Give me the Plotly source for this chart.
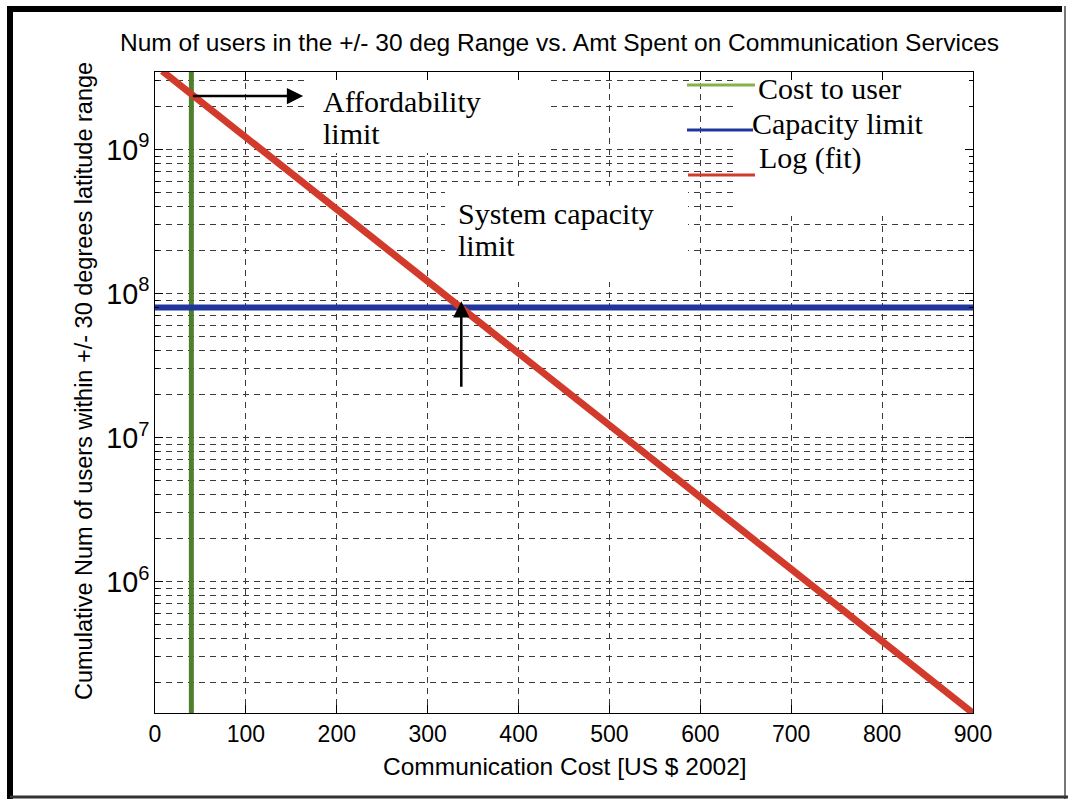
import numpy as np
import plotly.graph_objects as go

# ---------------- data ----------------
cost_fit = [8, 100, 200, 300, 400, 500, 600, 700, 800, 900]
users_fit = [3.5e9, 1.21e9, 3.84e8, 1.21e8, 3.84e7, 1.21e7, 3.84e6, 1.22e6, 3.86e5, 1.22e5]

cost_to_user = 40          # vertical green line (US $)
capacity_limit = 8e7       # horizontal blue line (users)

x_ticks = [0, 100, 200, 300, 400, 500, 600, 700, 800, 900]
x_range = [0, 900]
y_range_log = [5.087, 9.538]

afford_arrow = dict(x_tail=40, x_head=163, y=2.35e9)
capacity_arrow = dict(x=337, y_tail=2.2e7, y_head=8.85e7)

title_text = "Num of users in the +/- 30 deg Range vs. Amt Spent on Communication Services"
x_title = "Communication Cost [US $ 2002]"
y_title = "Cumulative Num of users within +/- 30 degrees latitude range"
legend_labels = ["Cost to user", "Capacity limit", "Log (fit)"]

# ---------------- style ----------------
W, H = 1068, 799
ML, MR, MT, MB = 155, 95, 72, 86
PW, PH = W - ML - MR, H - MT - MB

GREEN = "#4f7f2c"
GREEN_LEG = "#86b24a"
BLUE = "#21369c"
RED = "#d23b2b"
SANS = "Liberation Sans, Arial, Helvetica, sans-serif"
SERIF = "Liberation Serif, Times New Roman, serif"
GRID = "#3a3a3a"
DASH = "6px,5px"


def px2x(px):
    return (px - ML) / PW


def py2y(py):
    return (MT + PH - py) / PH


def px2data_x(px):
    return x_range[0] + px2x(px) * (x_range[1] - x_range[0])


def py2data_y(py):
    lo, hi = y_range_log
    return 10 ** (lo + py2y(py) * (hi - lo))


fig = go.Figure()

# white patches (cover gridlines behind the text boxes, as in the reference)
patches = [(305, 72, 548, 153), (445, 186, 688, 282), (733, 72, 965, 216)]
for (x0, y0, x1, y1) in patches:
    xa, xb = px2data_x(x0), px2data_x(x1)
    ya, yb = py2data_y(y1), py2data_y(y0)
    fig.add_trace(go.Scatter(x=[xa, xb, xb, xa, xa], y=[ya, ya, yb, yb, ya],
                             mode="lines", fill="toself", fillcolor="white",
                             line=dict(width=0, color="white"),
                             showlegend=False, hoverinfo="skip"))

x_lo, x_hi = x_range
y_lo, y_hi = 10 ** y_range_log[0], 10 ** y_range_log[1]

fig.add_trace(go.Scatter(x=[cost_to_user, cost_to_user], y=[y_lo * 0.98, y_hi * 1.02],
                         mode="lines", line=dict(color=GREEN, width=5),
                         showlegend=False, cliponaxis=False, hoverinfo="skip"))
fig.add_trace(go.Scatter(x=[x_lo, x_hi], y=[capacity_limit, capacity_limit],
                         mode="lines", line=dict(color=BLUE, width=6),
                         showlegend=False, cliponaxis=False, hoverinfo="skip"))
fig.add_trace(go.Scatter(x=cost_fit, y=users_fit, mode="lines",
                         line=dict(color=RED, width=7),
                         showlegend=False, cliponaxis=False, hoverinfo="skip"))

# legend keys (manual, as in the reference)
leg_lines = [(687, 755, 85, GREEN_LEG), (687, 753, 130, BLUE), (688, 755, 175, RED)]
for (x0, x1, yy, c) in leg_lines:
    fig.add_shape(type="line", xref="paper", yref="paper",
                  x0=px2x(x0), x1=px2x(x1), y0=py2y(yy), y1=py2y(yy),
                  line=dict(color=c, width=3), layer="above")

leg_text_pos = [(756, 88), (750, 123), (757, 158)]
for lab, (tx, ty) in zip(legend_labels, leg_text_pos):
    fig.add_annotation(text=lab, xref="paper", yref="paper", x=px2x(tx), y=py2y(ty),
                       xanchor="left", yanchor="middle", showarrow=False,
                       font=dict(family=SERIF, size=30, color="black"))

# text annotations
for txt, tx, ty in [("Affordability", 321, 102), ("limit", 321, 133),
                    ("System capacity", 456, 213), ("limit", 456, 246)]:
    fig.add_annotation(text=txt, xref="paper", yref="paper", x=px2x(tx), y=py2y(ty),
                       xanchor="left", yanchor="middle", showarrow=False,
                       font=dict(family=SERIF, size=30, color="black"))

# arrows
fig.add_annotation(x=afford_arrow["x_head"], y=np.log10(afford_arrow["y"]),
                   ax=afford_arrow["x_tail"], ay=np.log10(afford_arrow["y"]),
                   xref="x", yref="y", axref="x", ayref="y", text="",
                   showarrow=True, arrowhead=2, arrowsize=1.3, arrowwidth=2.5,
                   arrowcolor="black")
fig.add_annotation(x=capacity_arrow["x"], y=np.log10(capacity_arrow["y_head"]),
                   ax=capacity_arrow["x"], ay=np.log10(capacity_arrow["y_tail"]),
                   xref="x", yref="y", axref="x", ayref="y", text="",
                   showarrow=True, arrowhead=2, arrowsize=1.3, arrowwidth=2.5,
                   arrowcolor="black")

# titles
fig.add_annotation(text=title_text, xref="paper", yref="paper", x=px2x(559), y=py2y(43),
                   xanchor="center", yanchor="middle", showarrow=False,
                   font=dict(family=SANS, size=24.5, color="black"))
fig.add_annotation(text=x_title, xref="paper", yref="paper", x=px2x(565), y=py2y(766),
                   xanchor="center", yanchor="middle", showarrow=False,
                   font=dict(family=SANS, size=24.5, color="black"))
fig.add_annotation(text=y_title, xref="paper", yref="paper", x=px2x(84), y=py2y(381),
                   xanchor="center", yanchor="middle", showarrow=False, textangle=-90,
                   font=dict(family=SANS, size=23.5, color="black"))

# outer frame
frame = [
    (10, 6, 10, 799, "black", 6),
    (7, 9, 1062, 9, "black", 6),
    (1065, 6, 1065, 799, "#777777", 2),
    (10, 797, 1068, 797, "#333333", 3),
]
for (x0, y0, x1, y1, c, w) in frame:
    fig.add_shape(type="line", xref="paper", yref="paper",
                  x0=px2x(x0), x1=px2x(x1), y0=py2y(y0), y1=py2y(y1),
                  line=dict(color=c, width=w), layer="above")

tickfont = dict(family=SANS, size=23, color="black")
fig.update_xaxes(range=x_range, tickvals=x_ticks, ticks="inside", ticklen=8,
                 tickcolor="black", tickwidth=1, showline=True, linecolor="black",
                 linewidth=1, mirror="ticks", showgrid=True, gridcolor=GRID,
                 griddash=DASH, gridwidth=1, zeroline=False, tickfont=tickfont)
fig.update_yaxes(type="log", range=y_range_log, dtick=1, exponentformat="power",
                 ticks="inside", ticklen=8, tickcolor="black", tickwidth=1,
                 showline=True, linecolor="black", linewidth=1, mirror="ticks",
                 showgrid=True, gridcolor=GRID, griddash=DASH, gridwidth=1,
                 zeroline=False, tickfont=tickfont,
                 minor=dict(dtick="D1", ticks="inside", ticklen=4, tickcolor="black",
                            showgrid=True, gridcolor=GRID, griddash=DASH, gridwidth=1))

fig.update_layout(width=W, height=H, margin=dict(l=ML, r=MR, t=MT, b=MB, pad=0),
                  paper_bgcolor="white", plot_bgcolor="white", showlegend=False)

fig.write_html("out.html")
